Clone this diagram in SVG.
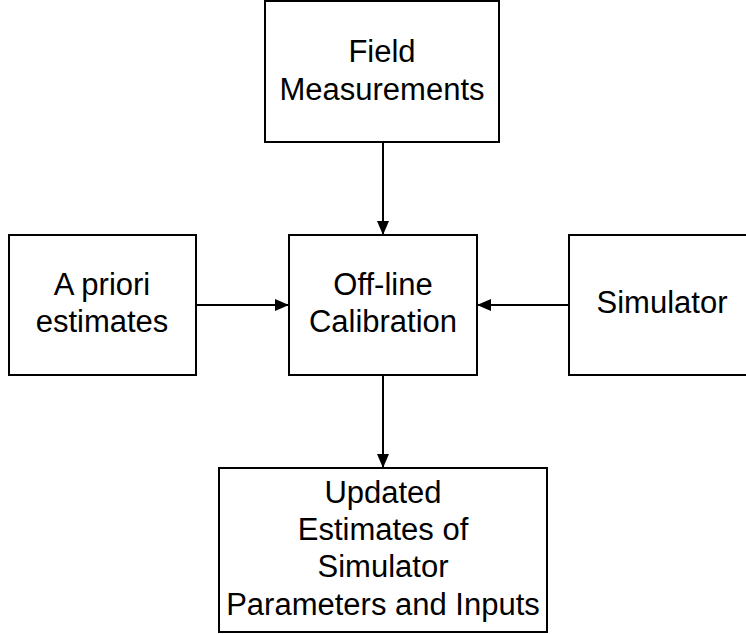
<svg xmlns="http://www.w3.org/2000/svg" width="746" height="634" viewBox="0 0 746 634">
<style>
.box{fill:#fff;stroke:#000;stroke-width:2}
.lbl{font-family:"Liberation Sans",Arial,sans-serif;font-size:31px;fill:#000;text-anchor:middle}
.conn{stroke:#000;stroke-width:2;fill:none;marker-end:url(#ah)}
</style>
<defs>
<marker id="ah" markerWidth="14" markerHeight="12" refX="14" refY="6" orient="auto" markerUnits="userSpaceOnUse">
<path d="M0,0 L14,6 L0,12 Z" fill="#000"/>
</marker>
</defs>
<rect width="746" height="634" fill="#fff"/>
<g id="field">
<rect class="box" x="265" y="1" width="234" height="141"/>
<text class="lbl" x="382" y="62">Field</text>
<text class="lbl" x="382" y="100">Measurements</text>
</g>
<g id="apriori">
<rect class="box" x="9" y="235" width="187" height="140"/>
<text class="lbl" x="102" y="295">A priori</text>
<text class="lbl" x="102" y="332">estimates</text>
</g>
<g id="calibration">
<rect class="box" x="289" y="235" width="188" height="140"/>
<text class="lbl" x="383" y="295">Off-line</text>
<text class="lbl" x="383" y="332">Calibration</text>
</g>
<g id="simulator">
<rect class="box" x="569" y="235" width="187" height="140"/>
<text class="lbl" x="662" y="313">Simulator</text>
</g>
<g id="updated">
<rect class="box" x="219" y="468" width="328" height="164"/>
<text class="lbl" x="383" y="503">Updated</text>
<text class="lbl" x="383" y="540">Estimates of</text>
<text class="lbl" x="383" y="577">Simulator</text>
<text class="lbl" x="383" y="615">Parameters and Inputs</text>
</g>
<g id="connectors">
<line class="conn" x1="383" y1="142" x2="383" y2="235"/>
<line class="conn" x1="196" y1="305" x2="289" y2="305"/>
<line class="conn" x1="569" y1="305" x2="477" y2="305"/>
<line class="conn" x1="383" y1="375" x2="383" y2="468"/>
</g>
</svg>
